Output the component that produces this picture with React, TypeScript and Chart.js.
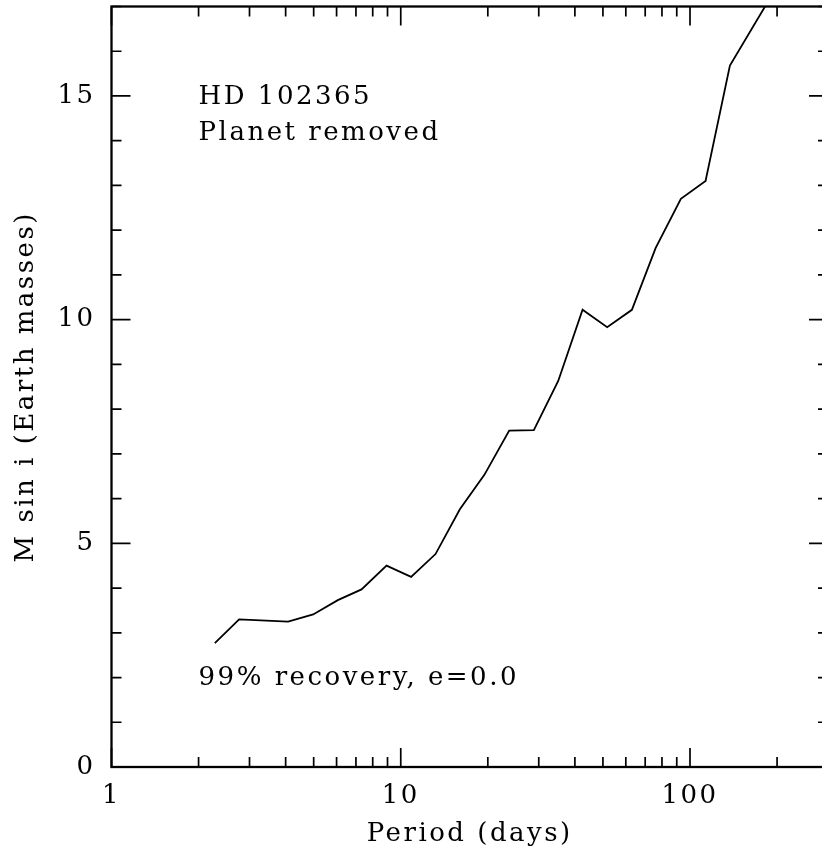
import React, { useEffect, useRef } from 'react';
import { Chart, registerables } from 'chart.js';

Chart.register(...registerables);

// ---- data ----
const PERIODS = [2.276, 2.762, 4.08, 4.98, 6.06, 7.318, 8.931, 10.86, 13.19, 16.01, 19.46, 23.71, 28.85, 35.03, 42.52, 51.72, 62.97, 76.04, 93.0, 113.2, 137.4, 203.8];
const MASSES = [2.77, 3.3, 3.25, 3.41, 3.73, 3.97, 4.5, 4.25, 4.76, 5.76, 6.53, 7.52, 7.53, 8.63, 10.22, 9.83, 10.22, 11.6, 12.7, 13.1, 15.68, 17.54];

const X_RANGE = [1, 300];
const Y_RANGE = [0, 17];
const X_LABEL_TICKS = [1, 10, 100];
const X_MINOR_TICKS = [2, 3, 4, 5, 6, 7, 8, 9, 20, 30, 40, 50, 60, 70, 80, 90, 200, 300];
const Y_LABEL_TICKS = [0, 5, 10, 15];
const Y_MINOR_TICKS = [1, 2, 3, 4, 6, 7, 8, 9, 11, 12, 13, 14, 16, 17];

const X_TITLE = 'Period (days)';
const Y_TITLE = 'M sin i (Earth masses)';

const ANNOT_TEXTS = ['HD 102365', 'Planet removed', '99% recovery, e=0.0'];
const ANNOT_X = [2, 2, 2];
const ANNOT_Y = [14.82, 14.02, 1.83];

// ---- style ----
const FONT_FAMILY = '"DejaVu Serif", serif';
const FONT_SIZE = 26;
const LETTER_SPACING = '2.5px';
const MAJOR_LEN = 19;
const MINOR_LEN = 10;

const framePlugin = {
  id: 'frameTicks',
  beforeDraw(chart: any) {
    const ctx = chart.ctx as any;
    ctx.letterSpacing = LETTER_SPACING;
    ctx.save();
    ctx.fillStyle = '#fff';
    ctx.fillRect(0, 0, chart.width, chart.height);
    ctx.restore();
  },
  afterDatasetsDraw(chart: any) {
    const ctx = chart.ctx as any;
    const a = chart.chartArea;
    const xs = chart.scales.x;
    const ys = chart.scales.y;
    ctx.save();
    ctx.strokeStyle = '#000';
    ctx.lineWidth = 1.7;
    ctx.beginPath();
    const xTick = (v: number, len: number) => {
      const px = xs.getPixelForValue(v);
      ctx.moveTo(px, a.bottom);
      ctx.lineTo(px, a.bottom - len);
      ctx.moveTo(px, a.top);
      ctx.lineTo(px, a.top + len);
    };
    const yTick = (v: number, len: number) => {
      const py = ys.getPixelForValue(v);
      ctx.moveTo(a.left, py);
      ctx.lineTo(a.left + len, py);
      ctx.moveTo(a.right, py);
      ctx.lineTo(a.right - len, py);
    };
    X_LABEL_TICKS.forEach((v) => xTick(v, MAJOR_LEN));
    X_MINOR_TICKS.forEach((v) => xTick(v, MINOR_LEN));
    Y_LABEL_TICKS.forEach((v) => yTick(v, MAJOR_LEN));
    Y_MINOR_TICKS.forEach((v) => yTick(v, MINOR_LEN));
    ctx.stroke();

    ctx.lineWidth = 2.3;
    ctx.strokeRect(a.left, a.top, a.right - a.left, a.bottom - a.top);

    ctx.letterSpacing = LETTER_SPACING;
    ctx.font = `${FONT_SIZE}px ${FONT_FAMILY}`;
    ctx.fillStyle = '#000';
    ctx.textAlign = 'left';
    ctx.textBaseline = 'alphabetic';
    ANNOT_TEXTS.forEach((t, i) => {
      ctx.fillText(t, xs.getPixelForValue(ANNOT_X[i]), ys.getPixelForValue(ANNOT_Y[i]));
    });
    ctx.restore();
  },
};

function ChartView() {
  const ref = useRef<HTMLCanvasElement | null>(null);
  useEffect(() => {
    const canvas = ref.current;
    if (!canvas) return;
    const font = { family: FONT_FAMILY, size: FONT_SIZE };
    const chart = new Chart(canvas, {
      type: 'line',
      data: {
        datasets: [
          {
            data: PERIODS.map((p, i) => ({ x: p, y: MASSES[i] })),
            borderColor: '#000',
            borderWidth: 1.8,
            pointRadius: 0,
            tension: 0,
            fill: false,
          },
        ],
      },
      options: {
        responsive: false,
        animation: false,
        devicePixelRatio: 1,
        layout: { padding: { left: 0, top: 6.5, right: 12, bottom: 0 } },
        plugins: { legend: { display: false }, tooltip: { enabled: false } },
        scales: {
          x: {
            type: 'logarithmic',
            min: X_RANGE[0],
            max: X_RANGE[1],
            grid: { display: false, drawTicks: false },
            border: { display: false },
            afterBuildTicks: (s: any) => {
              s.ticks = X_LABEL_TICKS.map((v) => ({ value: v }));
            },
            ticks: {
              autoSkip: false,
              maxRotation: 0,
              padding: 14,
              color: '#000',
              font,
              callback: (v: any) => String(v),
            },
            title: { display: true, text: X_TITLE, color: '#000', font, padding: { top: 0, bottom: 6 } },
            afterFit: (s: any) => {
              s.height = 89;
              s.paddingLeft = 0;
              s.paddingRight = 0;
            },
          },
          y: {
            type: 'linear',
            min: Y_RANGE[0],
            max: Y_RANGE[1],
            grid: { display: false, drawTicks: false },
            border: { display: false },
            afterBuildTicks: (s: any) => {
              s.ticks = Y_LABEL_TICKS.map((v) => ({ value: v }));
            },
            ticks: {
              autoSkip: false,
              padding: 16,
              color: '#000',
              font,
              callback: (v: any) => String(v),
            },
            title: { display: true, text: Y_TITLE, color: '#000', font, padding: { top: 11, bottom: 0 } },
            afterFit: (s: any) => {
              s.width = 111.5;
              s.paddingTop = 0;
              s.paddingBottom = 0;
            },
          },
        },
      },
      plugins: [framePlugin],
    } as any);
    return () => chart.destroy();
  }, []);
  return <canvas ref={ref} width={840} height={856} style={{ display: 'block' }} />;
}

export default function App() {
  return (
    <div
      style={{
        position: 'fixed',
        left: 0,
        top: 0,
        width: 822,
        height: 856,
        overflow: 'hidden',
        background: '#fff',
      }}
    >
      <ChartView />
    </div>
  );
}
